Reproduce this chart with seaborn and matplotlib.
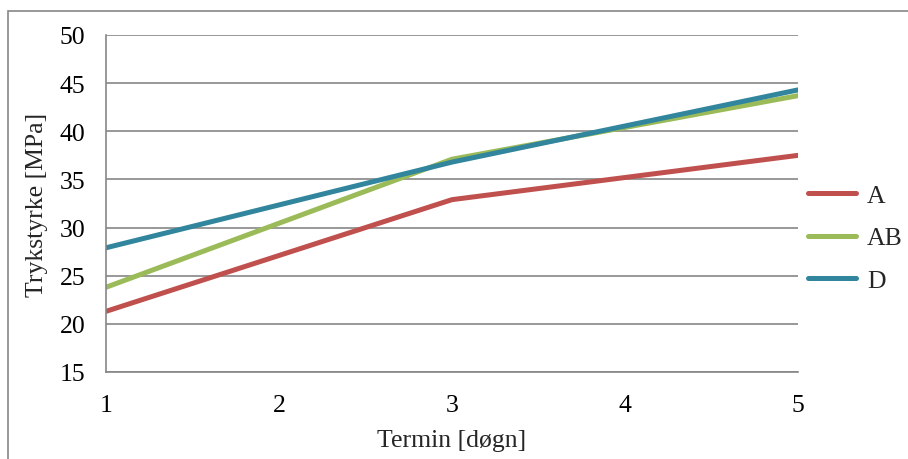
import matplotlib
matplotlib.use("Agg")
import matplotlib.pyplot as plt
import seaborn as sns
import pandas as pd
from matplotlib.patches import Rectangle

# Data
days = [1, 3, 5]
series_A = [21.3, 32.9, 37.5]
series_AB = [23.8, 37.1, 43.7]
series_D = [27.9, 36.8, 44.3]
series_names = ["A", "AB", "D"]
colors = ["#C0504D", "#9BBB59", "#31859C"]
x_ticks = [1, 2, 3, 4, 5]
y_ticks = [15, 20, 25, 30, 35, 40, 45, 50]

df = pd.concat([
    pd.DataFrame({"Termin": days, "Trykstyrke": vals, "Serie": name})
    for name, vals in zip(series_names, [series_A, series_AB, series_D])
])

sns.set_theme(style="white")
plt.rcParams["font.family"] = ["Liberation Serif", "DejaVu Serif"]

FS = 18.5
fig = plt.figure(figsize=(9.08, 4.60), dpi=100)
ax = fig.add_axes([106/908, 1-373/460, (798-106)/908, (373-36)/460])

sns.lineplot(data=df, x="Termin", y="Trykstyrke", hue="Serie",
             palette=dict(zip(series_names, colors)), linewidth=3.6,
             ax=ax, solid_capstyle="round")

ax.set_xlim(1, 5)
ax.set_ylim(15, 50)
ax.set_xticks(x_ticks)
ax.set_yticks(y_ticks)
ax.yaxis.grid(True, color="#868686", linewidth=1.2)
ax.xaxis.grid(False)
ax.set_axisbelow(True)
for s in ["top", "right"]:
    ax.spines[s].set_visible(False)
ax.spines["left"].set_color("#868686")
ax.spines["bottom"].set_color("#868686")
ax.spines["left"].set_linewidth(1.2)
ax.spines["bottom"].set_linewidth(1.2)
ax.tick_params(axis="both", length=0, labelsize=FS, colors="black")
ax.tick_params(axis="x", pad=16)
ax.tick_params(axis="y", pad=15)
ax.set_xlabel("Termin [døgn]", fontsize=FS, labelpad=9)
ax.set_ylabel("Trykstyrke [MPa]", fontsize=FS, labelpad=8)

leg = ax.legend(loc="center left", bbox_to_anchor=(808/908, 1-239/460),
                bbox_transform=fig.transFigure, frameon=False, fontsize=FS,
                handlelength=1.85, handletextpad=0.45, labelspacing=0.75,
                borderaxespad=0, borderpad=0)
for line in leg.get_lines():
    line.set_linewidth(3.6)
    line.set_solid_capstyle("round")

fig.patches.append(Rectangle((8/908, -0.05), 1.0, 1-12/460+0.05,
                             transform=fig.transFigure, fill=False,
                             edgecolor="#868686", linewidth=1.2))

fig.savefig("out.png", dpi=100)
